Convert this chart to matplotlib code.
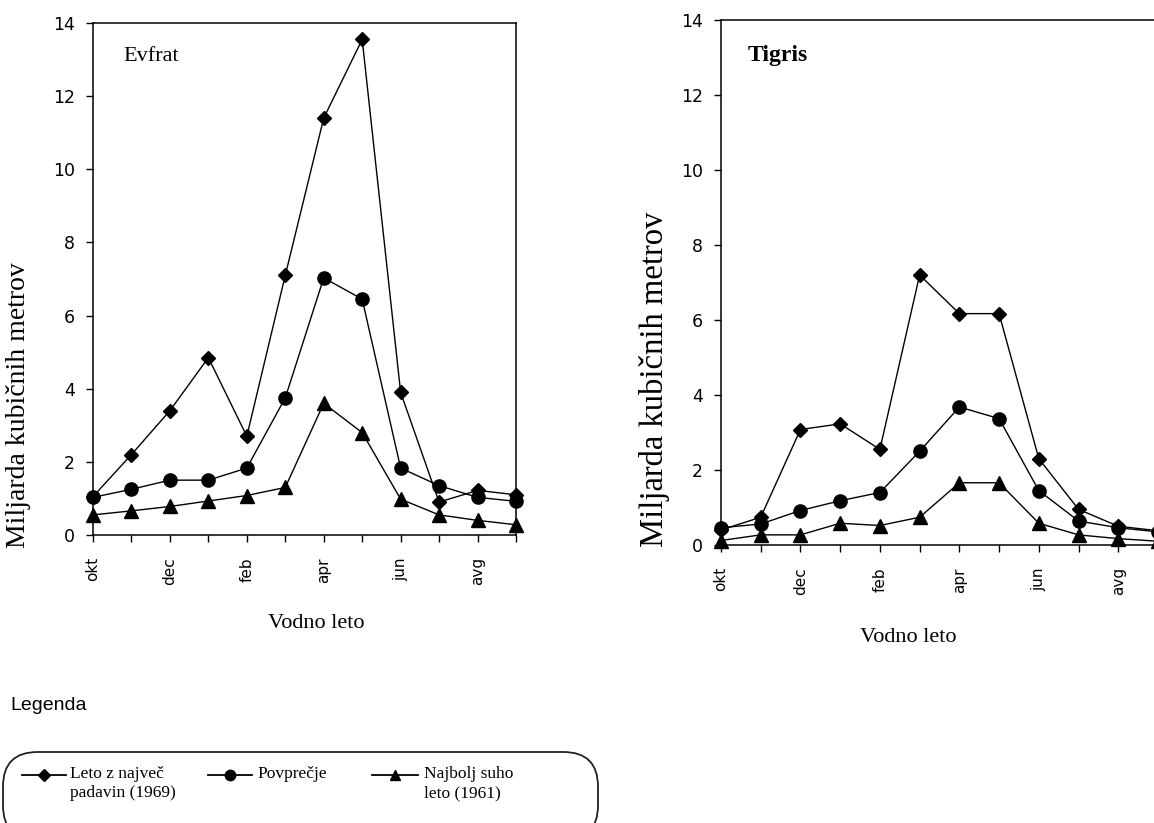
import matplotlib
matplotlib.use("Agg")
import matplotlib.pyplot as plt
from matplotlib.lines import Line2D
from matplotlib.patches import FancyBboxPatch

# ---------------- data ----------------
months = ['okt', 'nov', 'dec', 'jan', 'feb', 'mar', 'apr', 'maj', 'jun', 'jul', 'avg', 'sep']
shown_labels = ['okt', 'dec', 'feb', 'apr', 'jun', 'avg']
y_ticks = [0, 2, 4, 6, 8, 10, 12, 14]

evfrat_wet = [1.05, 2.2, 3.4, 4.85, 2.7, 7.1, 11.4, 13.55, 3.9, 0.9, 1.22, 1.1]
evfrat_avg = [1.03, 1.25, 1.5, 1.5, 1.83, 3.75, 7.03, 6.45, 1.83, 1.35, 1.03, 0.92]
evfrat_dry = [0.55, 0.66, 0.78, 0.93, 1.08, 1.3, 3.6, 2.8, 0.98, 0.55, 0.4, 0.28]

tigris_wet = [0.4, 0.74, 3.08, 3.23, 2.55, 7.2, 6.17, 6.17, 2.3, 0.95, 0.5, 0.38]
tigris_avg = [0.46, 0.56, 0.92, 1.18, 1.4, 2.5, 3.68, 3.37, 1.45, 0.64, 0.46, 0.35]
tigris_dry = [0.12, 0.27, 0.27, 0.58, 0.52, 0.74, 1.66, 1.66, 0.58, 0.27, 0.17, 0.1]

series_labels = ['Leto z največ\npadavin (1969)', 'Povprečje', 'Najbolj suho\nleto (1961)']
ylabel = 'Miljarda kubičnih metrov'
xlabel = 'Vodno leto'

# ---------------- figure ----------------
W, H = 1154, 823
fig = plt.figure(figsize=(W / 100, H / 100), dpi=100)
SERIF = ['Liberation Serif', 'DejaVu Serif']
SANS = ['DejaVu Sans']


def fx(px):
    return px / W


def fy(py):
    return 1 - py / H


def make_axes(left, right, top, bottom):
    return fig.add_axes([fx(left), fy(bottom), fx(right) - fx(left), fy(top) - fy(bottom)])


styles = [dict(marker='D', ms=7.5), dict(marker='o', ms=9.5), dict(marker='^', ms=9.5)]


def draw(ax, series, title, bold, ylab_size, title_xy, ylab_xy, xlab_xy):
    x = list(range(len(months)))
    for vals, st in zip(series, styles):
        ax.plot(x, vals, color='black', lw=1.0, marker=st['marker'], ms=st['ms'],
                mfc='black', mec='black', clip_on=False, zorder=3)
    ax.set_xlim(0, len(months) - 1)
    ax.set_ylim(0, 14)
    ax.set_yticks(y_ticks)
    ax.set_yticklabels([str(v) for v in y_ticks], fontfamily=SANS, fontsize=12.5)
    ax.set_xticks(x)
    ax.set_xticklabels([m if m in shown_labels else '' for m in months],
                       rotation=90, fontfamily=SANS, fontsize=11)
    ax.tick_params(axis='y', direction='out', length=5, width=1, pad=8)
    ax.tick_params(axis='x', direction='out', length=5, width=1, pad=11)
    for sp in ax.spines.values():
        sp.set_linewidth(1.1)
    ax.text(title_xy[0], title_xy[1], title, transform=ax.transAxes, ha='left', va='center',
            fontfamily=SERIF, fontsize=17 if bold else 16,
            fontweight='bold' if bold else 'normal')
    fig.text(fx(ylab_xy[0]), fy(ylab_xy[1]), ylabel, rotation=90, ha='center', va='center',
             fontfamily=SERIF, fontsize=ylab_size)
    fig.text(fx(xlab_xy[0]), fy(xlab_xy[1]), xlabel, ha='center', va='center',
             fontfamily=SERIF, fontsize=16)


ax1 = make_axes(93, 516, 23, 535)
draw(ax1, [evfrat_wet, evfrat_avg, evfrat_dry], 'Evfrat', False, 20,
     (0.072, 0.934), (19, 405), (316, 624))

ax2 = make_axes(721, 1158, 20, 545)
draw(ax2, [tigris_wet, tigris_avg, tigris_dry], 'Tigris', True, 23.5,
     (0.062, 0.933), (654, 379), (908, 637))

# ---------------- legend ----------------
fig.text(fx(10), fy(705), 'Legenda', ha='left', va='center',
         fontfamily=['Liberation Sans Narrow', 'Liberation Sans'], fontsize=14)
box = FancyBboxPatch((fx(3), fy(840)), fx(595), fy(752) - fy(840),
                     boxstyle='round,pad=0,rounding_size=0.03',
                     transform=fig.transFigure, fill=False, ec='#222222', lw=1.3,
                     mutation_aspect=W / H)
fig.add_artist(box)

leg_x = [(22, 66, 70), (208, 252, 257), (372, 418, 424)]
leg_ms = [6, 7.5, 7.5]
for (x0, x1, tx), st, lab, ms in zip(leg_x, styles, series_labels, leg_ms):
    fig.add_artist(Line2D([fx(x0), fx(x1)], [fy(775), fy(775)], transform=fig.transFigure,
                          color='black', lw=1.3))
    fig.add_artist(Line2D([fx((x0 + x1) / 2)], [fy(775)], transform=fig.transFigure,
                          marker=st['marker'], ms=ms, color='black', lw=0))
    fig.text(fx(tx), fy(766), lab, ha='left', va='top', fontfamily=SERIF, fontsize=12.5,
             linespacing=1.25)

fig.savefig('out.png', dpi=100)
